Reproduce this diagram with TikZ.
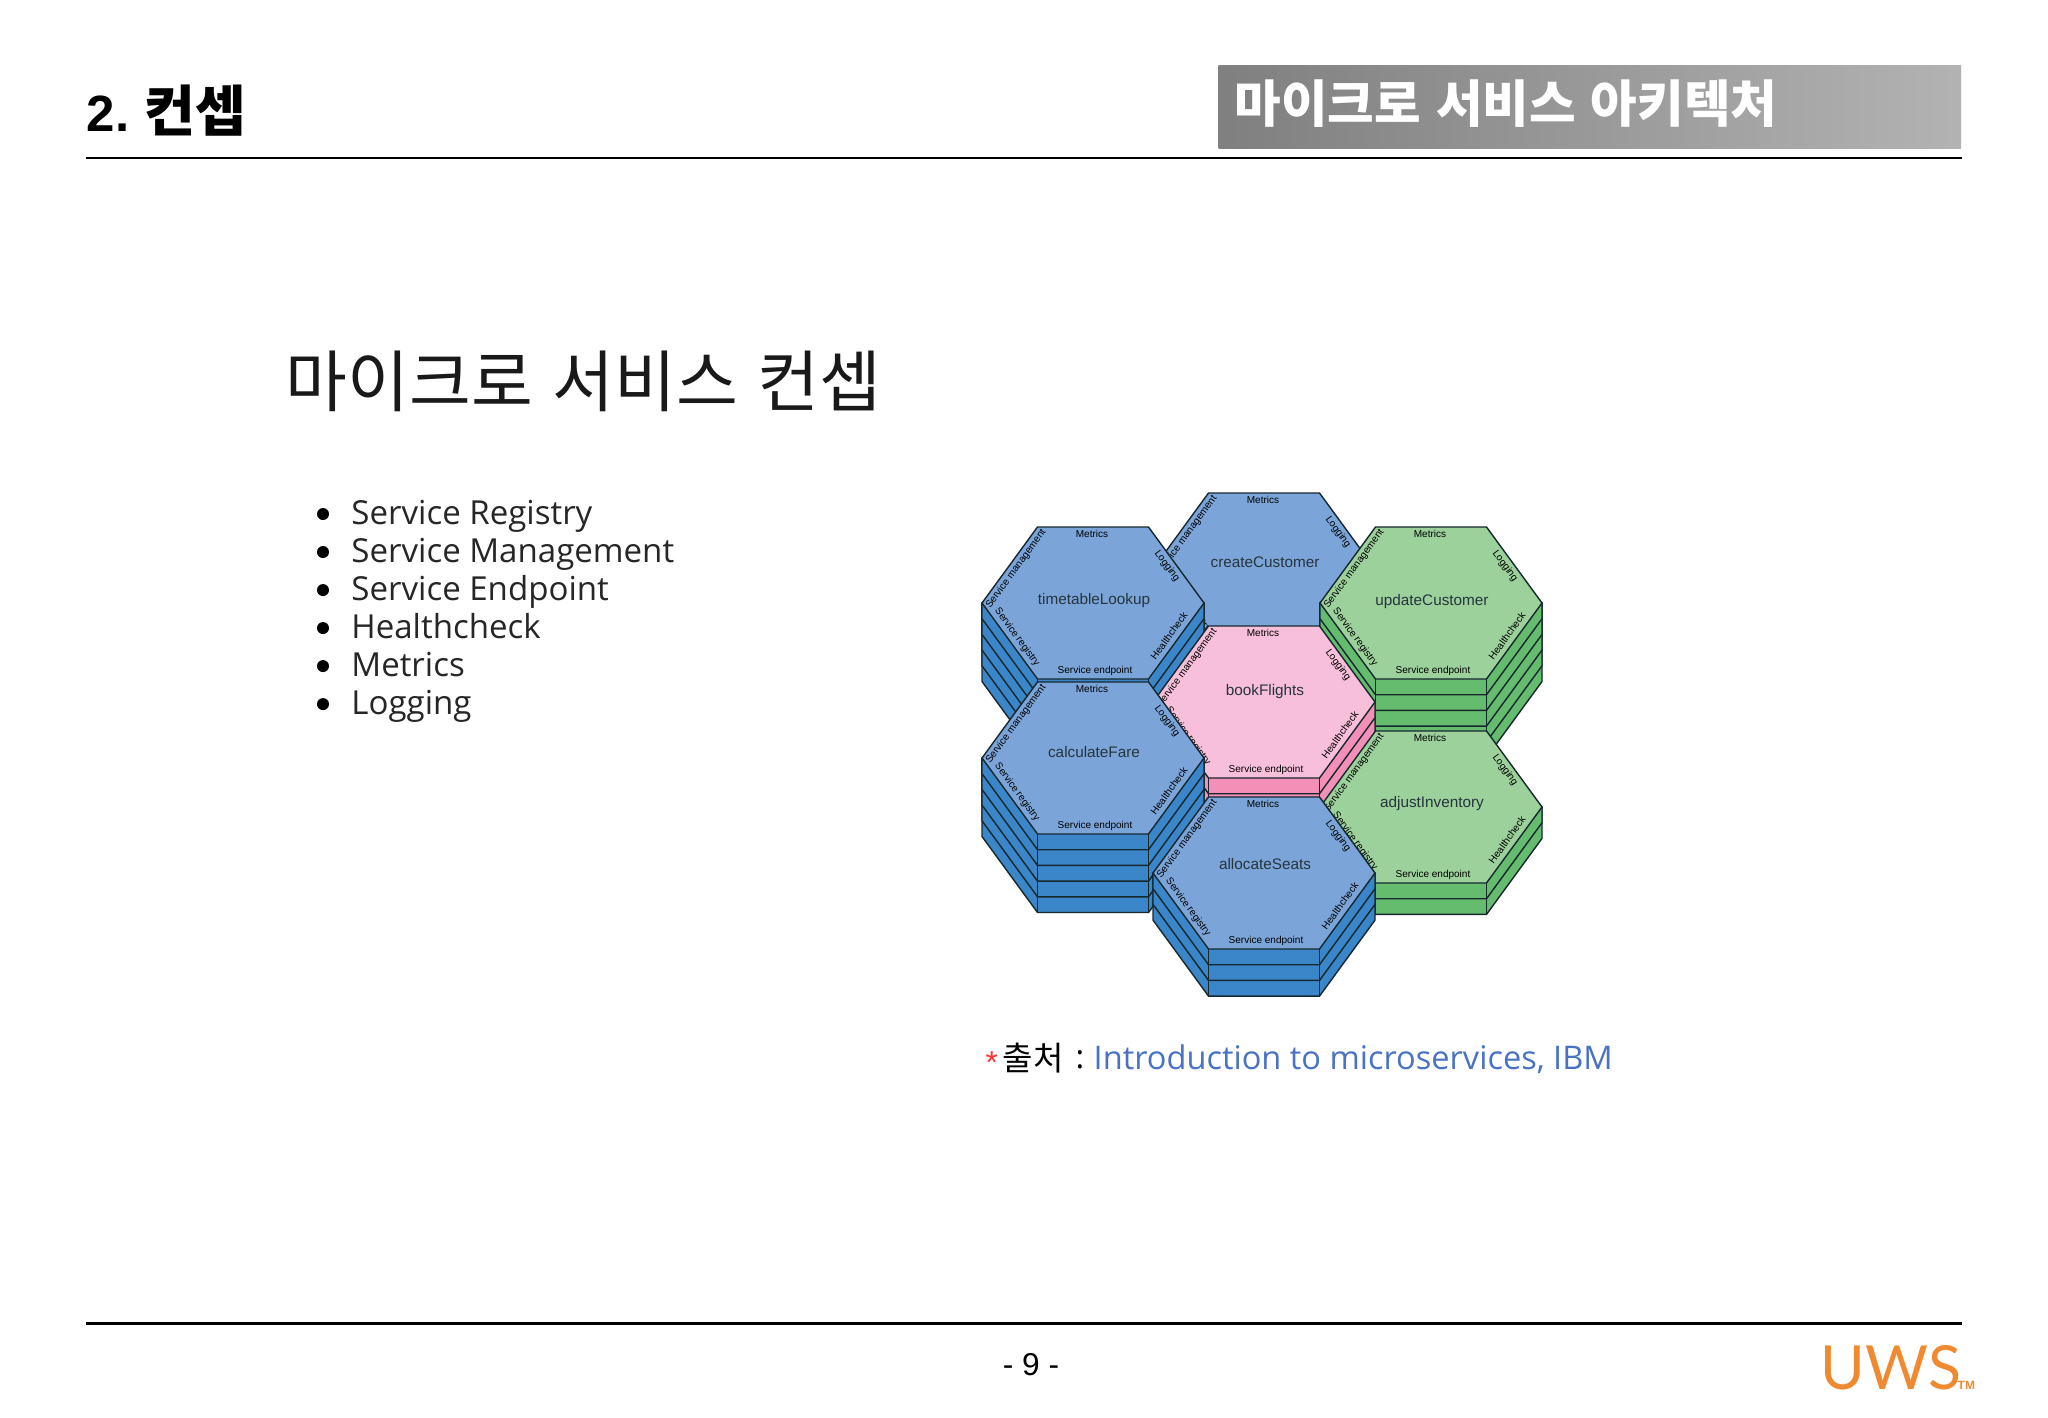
\documentclass[tikz,border=0pt]{standalone}
\usepackage{fontspec}
\usetikzlibrary{positioning}
\setmainfont{Liberation Sans}
\newfontfamily\krfont{Noto Sans CJK KR}
\newfontfamily\krwide[WordSpace=1.3]{Noto Sans CJK KR}
\newfontfamily\listfont{Open Sans}
\newfontfamily\logofont{Lato}

\definecolor{blueTop}{HTML}{7BA5D9}
\definecolor{blueSide}{HTML}{3A86C9}
\definecolor{pinkTop}{HTML}{F7BFD9}
\definecolor{pinkSide}{HTML}{F48FB7}
\definecolor{greenTop}{HTML}{9CD19B}
\definecolor{greenSide}{HTML}{66BC6E}
\definecolor{hexLine}{HTML}{16282E}
\definecolor{hexText}{HTML}{26343C}
\definecolor{linkBlue}{HTML}{4A72C4}
\definecolor{logoOrange}{HTML}{F08A30}

% one service: name, x, y, top colour, side colour, label, layer offsets, label height
\newcommand{\hexcell}[8]{
	\begin{scope}[shift={(#2,#3)}]
		\foreach \d in {#7} {
			\draw [hexedge, fill=#5] (-111,0) -- (-111,\d) -- (-55.5,76+\d) -- (55.5,76+\d) -- (111,\d) -- (111,0) -- cycle;
			\draw [hexedge] (-55.5,76) -- (-55.5,76+\d);
			\draw [hexedge] (55.5,76) -- (55.5,76+\d);
		}
		\draw [hexedge, fill=#4] (-55.5,-76) -- (55.5,-76) -- (111,0) -- (55.5,76) -- (-55.5,76) -- (-111,0) -- cycle;
		\node (#1Name) [hexname] at (1,#8) {#6};
		\node (#1Metrics) [hexlabel] at (-1,-69) {Metrics};
		\node (#1Logging) [hexlabel, rotate=-54] at (74,-37) {Logging};
		\node (#1Health) [hexlabel, rotate=54] at (76,33) {Healthcheck};
		\node (#1Endpoint) [hexlabel] at (2,68) {Service endpoint};
		\node (#1Registry) [hexlabel, rotate=-54] at (-76,34) {Service registry};
		\node (#1Mgmt) [hexlabel, rotate=54] at (-77,-34) {Service management};
	\end{scope}
}

\begin{document}
\begin{tikzpicture}[x=0.01cm, y=-0.01cm,
		hexedge/.style={
			draw=hexLine,
			line width=0.4pt,
			line join=round},
		hexname/.style={
			inner sep=0,
			text=hexText,
			font=\fontsize{4.35}{5}\selectfont},
		hexlabel/.style={
			inner sep=0,
			text=black,
			font=\fontsize{2.85}{3.4}\selectfont},
		rulerline/.style={
			line width=0.85pt,
			black},
		dotitem/.style={
			circle,
			fill=black,
			inner sep=0,
			minimum size=0.12cm},
		listitem/.style={
			inner sep=0,
			text=black!85,
			text height=0.28cm,
			text depth=0.07cm,
			font=\listfont\fontsize{9.4}{11}\selectfont},
		node distance=0.38cm]

	\useasboundingbox (0,0) rectangle (2048,1418);

	% head of the slide
	\node (chapter) [anchor=west, inner sep=0, font=\bfseries\fontsize{14.5}{17}\selectfont] at (86,111) {2. \hspace{-1.1pt}{\krfont\fontsize{15.7}{17}\selectfont 컨셉}};
	\node (titlebar) [anchor=north west, inner sep=0, minimum width=7.42cm, minimum height=0.83cm, left color=black!50, right color=black!30] at (1218,65) {};
	\node (titlebarText) [anchor=west, inner sep=0, text=white, font=\krwide\bfseries\fontsize{14.4}{16}\selectfont] at (1234,104) {마이크로 서비스 아키텍처};
	\coordinate (headLeft) at (86,158);
	\coordinate (headRight) at (1962,158);
	\draw [rulerline] (headLeft) -- (headRight);

	\node (slideTitle) [anchor=west, inner sep=0, text=black!90, font=\krwide\fontsize{19.1}{23}\selectfont] at (285,381) {마이크로 서비스 컨셉};

	% list on the left
	\node (dot1) [dotitem] at (323,514) {};
	\node (dot2) [dotitem, below of = dot1] {};
	\node (dot3) [dotitem, below of = dot2] {};
	\node (dot4) [dotitem, below of = dot3] {};
	\node (dot5) [dotitem, below of = dot4] {};
	\node (dot6) [dotitem, below of = dot5] {};
	\node (item1) [listitem, right=0.21cm of dot1] {Service Registry};
	\node (item2) [listitem, right=0.21cm of dot2] {Service Management};
	\node (item3) [listitem, right=0.21cm of dot3] {Service Endpoint};
	\node (item4) [listitem, right=0.21cm of dot4] {Healthcheck};
	\node (item5) [listitem, right=0.21cm of dot5] {Metrics};
	\node (item6) [listitem, right=0.21cm of dot6] {Logging};

	% hexagons, back ones first
	\hexcell{create}{1264}{569}{blueTop}{blueSide}{createCustomer}{15.7}{-7}
	\hexcell{timetable}{1093}{603}{blueTop}{blueSide}{timetableLookup}{78.5,62.8,47.1,31.4,15.7}{-2}
	\hexcell{update}{1431}{603}{greenTop}{greenSide}{updateCustomer}{78.5,62.8,47.1,31.4,15.7}{-1}
	\hexcell{book}{1264}{702}{pinkTop}{pinkSide}{bookFlights}{78.5,62.8,47.1,31.4,15.7}{-10}
	\hexcell{adjust}{1431}{807}{greenTop}{greenSide}{adjustInventory}{31.4,15.7}{-3}
	\hexcell{fare}{1093}{758}{blueTop}{blueSide}{calculateFare}{78.5,62.8,47.1,31.4,15.7}{-6}
	\hexcell{seats}{1264}{873}{blueTop}{blueSide}{allocateSeats}{47.1,31.4,15.7}{-9}

	% source line
	\node (star) [anchor=west, inner sep=0, text=red!80, font=\fontsize{9}{11}\selectfont] at (985,1063) {*};
	\node (source) [anchor=west, inner sep=0, font=\krfont\fontsize{9.4}{11}\selectfont] at (1002,1058) {출처};
	\node (colon) [anchor=west, inner sep=0, font=\listfont\fontsize{9.26}{11}\selectfont] at (1075,1060) {:};
	\node (link) [anchor=west, inner sep=0, text=linkBlue, font=\listfont\fontsize{9.26}{11}\selectfont] at (1093,1059) {Introduction to microservices, IBM};

	% foot of the slide
	\coordinate (footLeft) at (86,1323);
	\coordinate (footRight) at (1962,1323);
	\draw [rulerline] (footLeft) -- (footRight);
	\node (pageNo) [inner sep=0, font=\fontsize{9}{11}\selectfont] at (1031,1365) {- 9 -};
	\node (logo) [anchor=south west, inner sep=0, text=logoOrange, font=\logofont\fontsize{17.3}{20}\selectfont] at (1820,1391) {UWS};
	\node (logoTm) [anchor=south west, inner sep=0, text=logoOrange, font=\bfseries\fontsize{3.4}{4}\selectfont] at (1957,1390) {TM};
\end{tikzpicture}
\end{document}
